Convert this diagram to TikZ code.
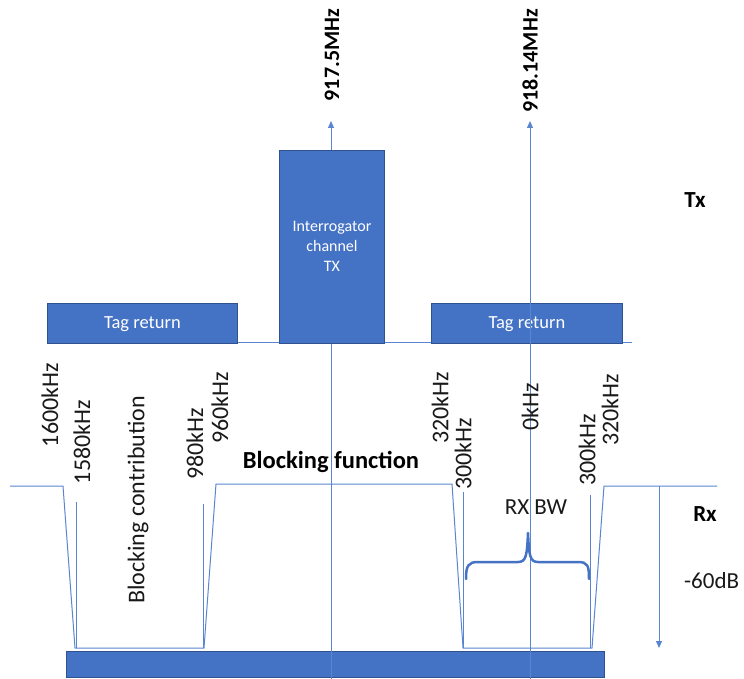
\documentclass[tikz,border=0pt]{standalone}
\usepackage{fontspec}
\setmainfont{Carlito}
\usetikzlibrary{arrows.meta}
\definecolor{oblue}{HTML}{4472C4}
\definecolor{oedge}{HTML}{2F528F}
\definecolor{oline}{HTML}{5A86D0}
\tikzset{
  bluebox/.style={draw=oedge, line width=0.8pt, fill=oblue, text=white, inner sep=0pt, anchor=north west},
  thinline/.style={draw=oline, line width=1pt},
  axisarrow/.style={thinline, -{Triangle[width=6pt,length=7pt]}},
  vlabel/.style={rotate=90, font=\fontsize{24}{26}\selectfont, text=black!90, inner sep=0pt},
  blabel/.style={font=\bfseries\fontsize{22}{24}\selectfont, text=black, inner sep=0pt}
}
\begin{document}
\begin{tikzpicture}[x=1pt,y=-1pt]
\useasboundingbox (0,0) rectangle (744,679);
% Tx baseline
\coordinate (txl) at (47,342);
\coordinate (txr) at (632,342);
\draw[thinline] (txl) -- (txr);
% bottom bar
\node[bluebox, minimum width=538pt, minimum height=26pt] (bar) at (66,651) {};
% tag return boxes
\node[bluebox, minimum width=190pt, minimum height=40pt] (tagL) at (47,303) {};
\node[text=white, font=\fontsize{18.5}{20}\selectfont] (tagLt) at ([yshift=-1pt]tagL.center) {Tag return};
\node[bluebox, minimum width=191pt, minimum height=40pt] (tagR) at (431,303) {};
\node[text=white, font=\fontsize{18.5}{20}\selectfont] (tagRt) at ([yshift=-1pt]tagR.center) {Tag return};
% vertical frequency lines
\coordinate (vLb) at (331,679);
\coordinate (vLt) at (331,121);
\coordinate (vRb) at (530,679);
\coordinate (vRt) at (530,121);
\draw[axisarrow] (vLb) -- (vLt);
\draw[axisarrow] (vRb) -- (vRt);
% interrogator box
\node[bluebox, minimum width=105pt, minimum height=193pt] (itx) at (279,150) {};
\node[text=white, align=center, font=\fontsize{16}{20}\selectfont] (itxt) at (332,246) {Interrogator\\channel\\TX};
% top labels
\node[blabel, rotate=90] (f1) at (332,55) {917.5MHz};
\node[blabel, rotate=90] (f2) at (530,61) {918.14MHz};
\node[blabel, font=\bfseries\fontsize{23}{25}\selectfont] (tx) at (695,200) {Tx};
% Rx response
\draw[thinline, line join=miter] (10,486) -- (63,486) -- (75,648) -- (204,648) -- (216,484) -- (452,484) -- (463,648) -- (592,648) -- (604,486) -- (717,486);
\draw[thinline] (76,502) -- (76,648);
\draw[thinline] (203,504) -- (203,648);
\draw[thinline] (463,492) -- (463,648);
\draw[thinline] (590,495) -- (590,648);
% -60dB arrow
\coordinate (dbt) at (659,486);
\coordinate (dbb) at (659,648);
\draw[axisarrow] (dbt) -- (dbb);
\node[font=\fontsize{23}{25}\selectfont, text=black!90, anchor=west, inner sep=0pt] (db) at (684,581) {-60dB};
\node[blabel, font=\bfseries\fontsize{23}{25}\selectfont] (rx) at (705,514) {Rx};
% brace
\draw[oblue, line width=2.5pt, line cap=round, line join=round]
  (466,579) .. controls (466,566) and (468,562) .. (478,562) -- (518,562)
  .. controls (526,562) and (527,556) .. (528,533)
  .. controls (529,556) and (530,562) .. (538,562) -- (578,562)
  .. controls (588,562) and (589,566) .. (589,579);
\node[font=\fontsize{23}{25}\selectfont, text=black!90, inner sep=0pt] (rxbw) at (536,507) {RX BW};
% labels
\node[blabel, font=\bfseries\fontsize{24.5}{26}\selectfont] (bf) at (331,462) {Blocking function};
\node[vlabel] (l1600) at (50,405) {1600kHz};
\node[vlabel] (l1580) at (82,442) {1580kHz};
\node[vlabel] (lbc) at (138,500) {Blocking contribution};
\node[vlabel] (l980) at (195,444) {980kHz};
\node[vlabel] (l960) at (220,408) {960kHz};
\node[vlabel] (l320a) at (440,408) {320kHz};
\node[vlabel] (l300a) at (463,454) {300kHz};
\node[vlabel] (l0) at (530,407) {0kHz};
\node[vlabel] (l300b) at (587,450) {300kHz};
\node[vlabel] (l320b) at (610,410) {320kHz};
\end{tikzpicture}
\end{document}
